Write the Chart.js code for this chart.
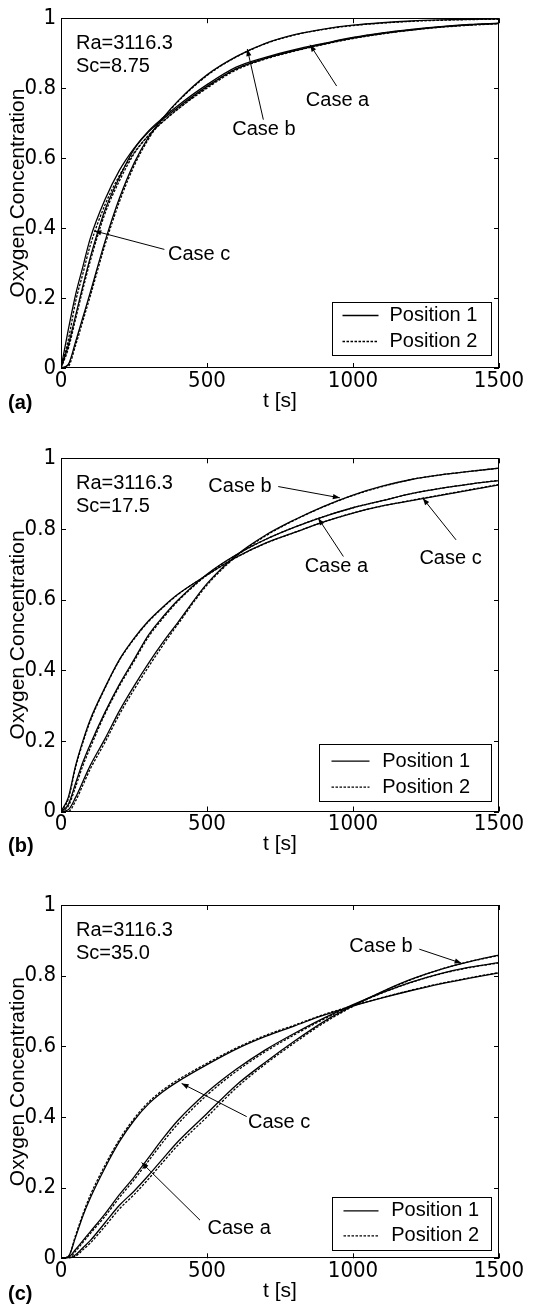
<!DOCTYPE html>
<html>
<head>
<meta charset="utf-8">
<script src="https://cdn.jsdelivr.net/npm/chart.js@4.4.1/dist/chart.umd.min.js"></script>
<style>
html,body{margin:0;padding:0;background:#fff;}
body{width:545px;height:1308px;position:relative;overflow:hidden;}
canvas{position:absolute;left:0;display:block;}
</style>
</head>
<body>
<canvas id="c0" width="545" height="430" style="top:0px"></canvas>
<canvas id="c1" width="545" height="440" style="top:430px"></canvas>
<canvas id="c2" width="545" height="438" style="top:870px"></canvas>
<script>
// ---------------- data ----------------
const timeS = [0,25,50,75,100,150,200,250,300,350,400,500,600,700,800,900,1000,1100,1200,1300,1400,1500];
const xTickValues = [0, 500, 1000, 1500];
const yTickValues = [0, 0.2, 0.4, 0.6, 0.8, 1];
const legendLabels = ['Position 1', 'Position 2'];
const caseNames = ['Case a', 'Case b', 'Case c'];
const raText = 'Ra=3116.3';
const scTexts = ['Sc=8.75', 'Sc=17.5', 'Sc=35.0'];
const panelTags = ['(a)', '(b)', '(c)'];
const xTitle = 't [s]';
const yTitle = 'Oxygen Concentration';

// Panel (a) Sc=8.75
const A_a1 = [0,0.11,0.21,0.29,0.37,0.48,0.565,0.628,0.678,0.716,0.75,0.81,0.86,0.888,0.91,0.928,0.945,0.958,0.968,0.976,0.982,0.986];
const A_a2 = [0,0.08,0.19,0.27,0.35,0.465,0.55,0.615,0.665,0.705,0.74,0.803,0.855,0.885,0.908,0.927,0.944,0.957,0.967,0.975,0.981,0.985];
const A_b1 = [0,0.01,0.075,0.145,0.215,0.36,0.485,0.585,0.66,0.716,0.763,0.838,0.89,0.928,0.953,0.969,0.98,0.987,0.992,0.995,0.997,0.998];
const A_b2 = [0,0.005,0.065,0.135,0.205,0.35,0.475,0.577,0.655,0.713,0.761,0.836,0.889,0.927,0.952,0.968,0.979,0.986,0.991,0.994,0.996,0.997];
const A_c1 = [0,0.065,0.15,0.235,0.315,0.45,0.545,0.625,0.675,0.712,0.745,0.805,0.855,0.885,0.907,0.926,0.943,0.956,0.966,0.975,0.981,0.985];
const A_c2 = [0,0.055,0.14,0.225,0.305,0.44,0.535,0.612,0.665,0.705,0.74,0.8,0.852,0.883,0.906,0.925,0.942,0.955,0.966,0.974,0.98,0.984];

// Panel (b) Sc=17.5
const B_a1 = [0,0.02,0.08,0.14,0.19,0.28,0.36,0.43,0.5,0.552,0.598,0.672,0.727,0.77,0.805,0.835,0.86,0.88,0.9,0.915,0.927,0.937];
const B_a2 = [0,0.015,0.07,0.13,0.18,0.275,0.355,0.425,0.495,0.548,0.595,0.67,0.726,0.77,0.805,0.835,0.86,0.88,0.9,0.915,0.927,0.938];
const B_b1 = [0,0.005,0.04,0.085,0.13,0.205,0.285,0.355,0.42,0.48,0.535,0.645,0.725,0.782,0.826,0.864,0.896,0.921,0.94,0.953,0.963,0.972];
const B_b2 = [0,0,0.03,0.075,0.12,0.195,0.275,0.345,0.41,0.472,0.53,0.641,0.722,0.78,0.825,0.863,0.895,0.92,0.94,0.953,0.963,0.972];
const B_c1 = [0,0.04,0.13,0.2,0.26,0.35,0.43,0.49,0.54,0.58,0.615,0.67,0.72,0.76,0.79,0.82,0.845,0.865,0.88,0.895,0.91,0.925];
const B_c2 = [0,0.035,0.125,0.195,0.255,0.348,0.428,0.488,0.538,0.578,0.614,0.669,0.719,0.759,0.79,0.82,0.845,0.865,0.881,0.896,0.911,0.926];

// Panel (c) Sc=35.0
const C_a1 = [0,0.003,0.025,0.05,0.075,0.125,0.18,0.23,0.285,0.34,0.39,0.47,0.535,0.59,0.637,0.68,0.718,0.752,0.782,0.806,0.824,0.837];
const C_a2 = [0,0,0.02,0.045,0.07,0.118,0.172,0.222,0.276,0.33,0.38,0.462,0.529,0.585,0.633,0.677,0.716,0.751,0.781,0.805,0.823,0.836];
const C_b1 = [0,0,0.01,0.03,0.05,0.1,0.15,0.19,0.235,0.283,0.33,0.41,0.49,0.555,0.615,0.67,0.715,0.755,0.79,0.818,0.84,0.858];
const C_b2 = [0,0,0.006,0.024,0.043,0.09,0.14,0.18,0.225,0.273,0.32,0.4,0.482,0.55,0.61,0.666,0.713,0.754,0.789,0.818,0.84,0.857];
const C_c1 = [0,0.005,0.06,0.12,0.17,0.255,0.33,0.39,0.437,0.472,0.5,0.548,0.592,0.628,0.658,0.688,0.714,0.737,0.758,0.777,0.793,0.808];
const C_c2 = [0,0.005,0.065,0.125,0.178,0.262,0.336,0.395,0.442,0.477,0.505,0.552,0.595,0.631,0.66,0.69,0.715,0.738,0.759,0.778,0.794,0.809];

// ---------------- styling / layout ----------------
const SANS = "'Liberation Sans', Arial, Helvetica, sans-serif";
const NARROW = "'Liberation Sans Narrow', 'Arial Narrow', 'DejaVu Sans Condensed', 'Liberation Sans', sans-serif";
const tickFont = {family: NARROW, size: 22};
const titleFont = {family: SANS, size: 21};
const noteFont = "20px " + SANS;

const decorPlugin = {
  id: 'panelDecor',
  afterDatasetsDraw(chart, args, o) {
    const ctx = chart.ctx, ca = chart.chartArea;
    const xs = chart.scales.x, ys = chart.scales.y;
    ctx.save();
    ctx.strokeStyle = '#000';
    ctx.fillStyle = '#000';
    ctx.lineWidth = 1;
    ctx.setLineDash([]);
    // frame
    ctx.strokeRect(Math.round(ca.left) + 0.5, Math.round(ca.top) + 0.5,
                   Math.round(ca.right) - Math.round(ca.left) - 1, Math.round(ca.bottom) - Math.round(ca.top) - 1);
    // inward ticks on all four sides
    const tl = 5;
    ctx.beginPath();
    xTickValues.forEach(v => {
      const px = Math.round(xs.getPixelForValue(v)) + 0.5;
      ctx.moveTo(px, ca.bottom); ctx.lineTo(px, ca.bottom - tl);
      ctx.moveTo(px, ca.top); ctx.lineTo(px, ca.top + tl);
    });
    yTickValues.forEach(v => {
      const py = Math.round(ys.getPixelForValue(v)) + 0.5;
      ctx.moveTo(ca.left, py); ctx.lineTo(ca.left + tl, py);
      ctx.moveTo(ca.right, py); ctx.lineTo(ca.right - tl, py);
    });
    ctx.stroke();

    // parameter text
    ctx.font = noteFont;
    ctx.textAlign = 'left';
    ctx.textBaseline = 'middle';
    ctx.fillText(raText, ca.left + 15, ca.top + o.raY);
    ctx.fillText(scTexts[o.idx], ca.left + 15, ca.top + o.scY);

    // case labels with arrows
    o.notes.forEach(n => {
      const lx = xs.getPixelForValue(n.at[0]), ly = ys.getPixelForValue(n.at[1]);
      const tx = xs.getPixelForValue(n.tail[0]), ty = ys.getPixelForValue(n.tail[1]);
      const hx = xs.getPixelForValue(n.tip[0]), hy = ys.getPixelForValue(n.tip[1]);
      ctx.textAlign = 'center';
      ctx.fillText(caseNames[n.c], lx, ly);
      ctx.lineWidth = 1;
      ctx.beginPath(); ctx.moveTo(tx, ty); ctx.lineTo(hx, hy); ctx.stroke();
      const ang = Math.atan2(hy - ty, hx - tx), L = 7, W = 2.6;
      ctx.beginPath();
      ctx.moveTo(hx, hy);
      ctx.lineTo(hx - L * Math.cos(ang) + W * Math.sin(ang), hy - L * Math.sin(ang) - W * Math.cos(ang));
      ctx.lineTo(hx - L * Math.cos(ang) - W * Math.sin(ang), hy - L * Math.sin(ang) + W * Math.cos(ang));
      ctx.closePath(); ctx.fill();
    });

    // legend box
    const lg = o.legend;
    const bx = Math.round(ca.right - lg.right - lg.w) + 0.5, by = Math.round(ca.bottom - lg.bottom - lg.h) + 0.5;
    ctx.fillStyle = '#fff';
    ctx.fillRect(bx, by, lg.w, lg.h);
    ctx.strokeStyle = '#000'; ctx.lineWidth = 1;
    ctx.strokeRect(bx, by, lg.w, lg.h);
    ctx.fillStyle = '#000';
    legendLabels.forEach((lab, i) => {
      const ds = chart.data.datasets[i];
      const ry = by + lg.rows[i];
      ctx.save();
      ctx.lineWidth = ds.borderWidth;
      ctx.setLineDash(ds.borderDash || []);
      ctx.beginPath(); ctx.moveTo(bx + lg.lineX[0], ry); ctx.lineTo(bx + lg.lineX[1], ry); ctx.stroke();
      ctx.restore();
      ctx.textAlign = 'left'; ctx.textBaseline = 'middle';
      ctx.fillText(lab, bx + lg.textX, ry);
    });

    // panel tag
    ctx.font = "bold 20px " + SANS;
    ctx.textAlign = 'left';
    ctx.fillText(panelTags[o.idx], 8, o.tagY);
    ctx.restore();
  }
};

function makePanel(id, idx, series, L) {
  const datasets = [];
  series.forEach((pair, ci) => pair.forEach((vals, pi) => datasets.push({
    label: caseNames[ci] + ', ' + legendLabels[pi],
    data: timeS.map((t, k) => ({x: t, y: vals[k]})),
    borderColor: '#000',
    borderWidth: 1.3,
    borderDash: pi ? [2.5, 1.5] : [],
    pointRadius: 0,
    fill: false,
    cubicInterpolationMode: 'monotone'
  })));
  return new Chart(document.getElementById(id), {
    type: 'line',
    data: {datasets},
    plugins: [decorPlugin],
    options: {
      responsive: false,
      animation: false,
      devicePixelRatio: 1,
      events: [],
      layout: {padding: {top: L.top, right: 46, left: 0, bottom: 0}},
      plugins: {
        legend: {display: false},
        tooltip: {enabled: false},
        panelDecor: {idx, raY: 25, scY: 48, notes: L.notes, legend: L.legend, tagY: L.tagY}
      },
      scales: {
        x: {
          type: 'linear', min: 0, max: 1500,
          afterBuildTicks: s => { s.ticks = xTickValues.map(v => ({value: v})); },
          afterFit: s => { s.height = L.xh; },
          grid: {display: false, drawTicks: false, tickLength: 0},
          border: {display: false},
          ticks: {font: tickFont, color: '#000', padding: 0, maxRotation: 0, autoSkip: false, callback: v => String(v)},
          title: {display: true, text: xTitle, font: titleFont, color: '#000', padding: {top: 0, bottom: L.xtp}}
        },
        y: {
          type: 'linear', min: 0, max: 1,
          afterBuildTicks: s => { s.ticks = yTickValues.map(v => ({value: v})); },
          afterFit: s => { s.width = 61; },
          grid: {display: false, drawTicks: false, tickLength: 0},
          border: {display: false},
          ticks: {font: tickFont, color: '#000', padding: 5, autoSkip: false,
                  callback: v => (v === 0 ? '0' : v === 1 ? '1' : v.toFixed(1))},
          title: {display: true, text: yTitle, font: titleFont, color: '#000', padding: {top: 5.4, bottom: 0}}
        }
      }
    }
  });
}

makePanel('c0', 0, [[A_a1, A_a2], [A_b1, A_b2], [A_c1, A_c2]], {
  top: 15, xh: 62, xtp: 15.9, tagY: 403,
  legend: {right: 8, bottom: 13, w: 159, h: 53, rows: [13, 39], lineX: [10, 46], textX: 57},
  notes: [
    {c: 0, at: [947, 0.766], tail: [944, 0.806], tip: [853, 0.924]},
    {c: 1, at: [695, 0.683], tail: [693, 0.71], tip: [638, 0.912]},
    {c: 2, at: [473, 0.325], tail: [354, 0.339], tip: [114, 0.392]}
  ]
});
makePanel('c1', 1, [[B_a1, B_a2], [B_b1, B_b2], [B_c1, B_c2]], {
  top: 28.3, xh: 58.5, xtp: 12.9, tagY: 416,
  legend: {right: 8, bottom: 10.8, w: 172, h: 57, rows: [16.7, 42.7], lineX: [12, 50], textX: 62.7},
  notes: [
    {c: 1, at: [613, 0.92], tail: [744, 0.92], tip: [955, 0.888]},
    {c: 0, at: [943, 0.693], tail: [967, 0.722], tip: [881, 0.83]},
    {c: 2, at: [1334, 0.715], tail: [1353, 0.769], tip: [1239, 0.887]}
  ]
});
makePanel('c2', 2, [[C_a1, C_a2], [C_b1, C_b2], [C_c1, C_c2]], {
  top: 35, xh: 49.7, xtp: 3.9, tagY: 424,
  legend: {right: 8, bottom: 8.3, w: 159, h: 53, rows: [13.3, 38.3], lineX: [11, 46], textX: 58.7},
  notes: [
    {c: 1, at: [1096, 0.882], tail: [1227, 0.875], tip: [1372, 0.835]},
    {c: 2, at: [747, 0.384], tail: [636, 0.401], tip: [413, 0.495]},
    {c: 0, at: [610, 0.083], tail: [476, 0.108], tip: [276, 0.271]}
  ]
});
</script>
</body>
</html>
